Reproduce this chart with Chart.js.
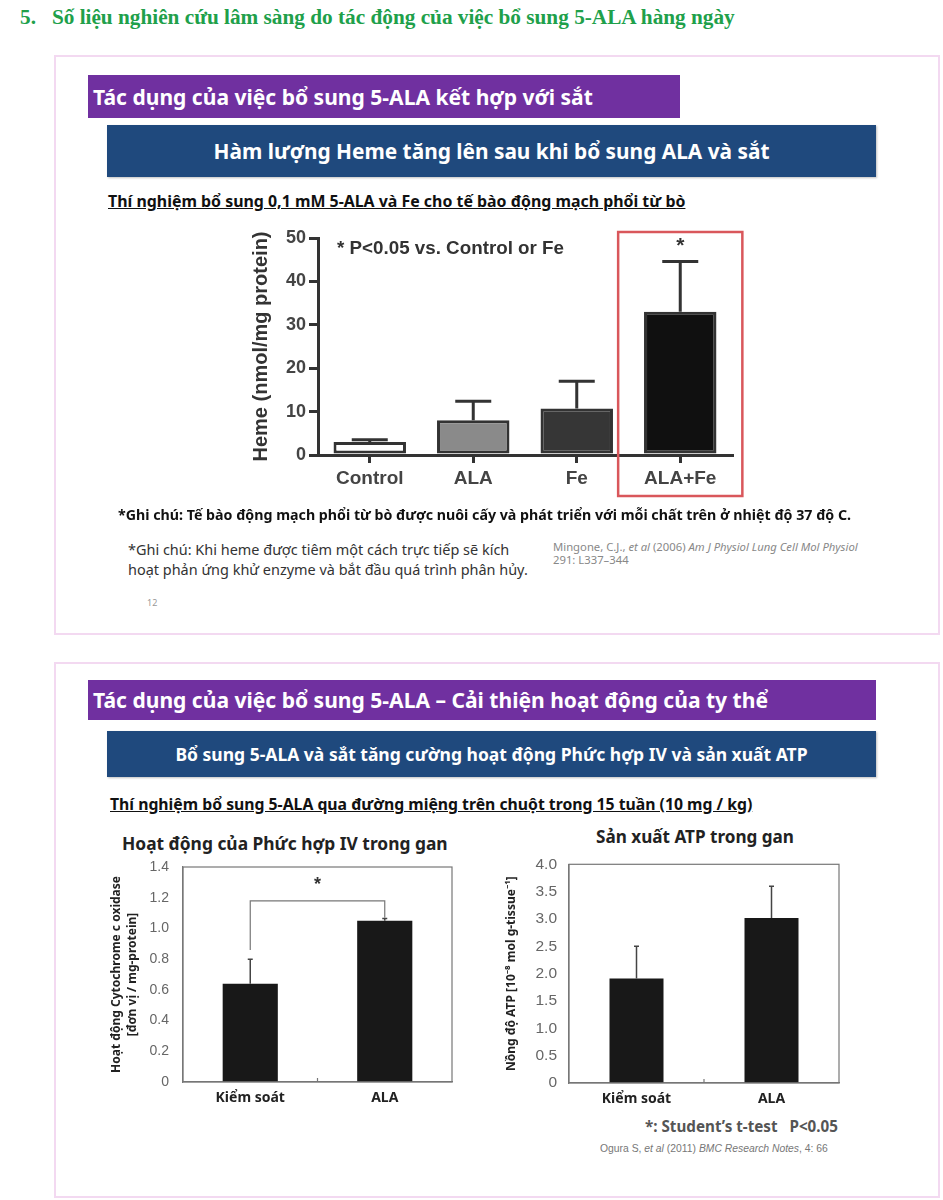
<!DOCTYPE html>
<html>
<head>
<meta charset="utf-8">
<script src="https://cdn.jsdelivr.net/npm/chart.js@4.4.1/dist/chart.umd.min.js"></script>
<style>
  body { margin: 0; background: #fff; }
  #page { position: relative; width: 943px; height: 1200px; overflow: hidden; font-family: "Noto Sans", "Open Sans", sans-serif; }
  .abs { position: absolute; white-space: nowrap; }
  .panel { position: absolute; border: 2px solid #f3d9f1; box-sizing: border-box; }
  .purple { position: absolute; background: #7030a0; color: #fff; font-weight: 700; box-sizing: border-box; padding-left: 5px; white-space: nowrap; }
  .blue { position: absolute; background: #1f497d; color: #fff; font-weight: 700; text-align: center; white-space: nowrap; box-shadow: 1px 1px 2px rgba(0,0,0,0.25); }
  .purple span, .blue span { display: inline-block; }
  .sub { font-weight: 700; text-decoration: underline; color: #111; }
  canvas { position: absolute; }
</style>
</head>
<body>
<div id="page">
  <div class="abs" data-w="715" style="left:20px; top:5px; font-family:'Liberation Serif', serif; font-weight:700; font-size:21px; color:#20a04a;">5.&nbsp;&nbsp;&nbsp;Số liệu nghiên cứu lâm sàng do tác động của việc bổ sung 5-ALA hàng ngày</div>

  <div class="panel" style="left:54px; top:55px; width:886px; height:580px;"></div>
  <div class="purple" style="left:88px; top:75px; width:592px; height:43px; line-height:43px; font-size:19px;"><span data-w="500">Tác dụng của việc bổ sung 5-ALA kết hợp với sắt</span></div>
  <div class="blue" style="left:107px; top:125px; width:769px; height:52px; line-height:52px; font-size:19px;"><span data-w="556">Hàm lượng Heme tăng lên sau khi bổ sung ALA và sắt</span></div>
  <div class="abs sub" data-w="578" style="left:108px; top:190px; font-size:14px;">Thí nghiệm bổ sung 0,1 mM 5-ALA và Fe cho tế bào động mạch phổi từ bò</div>

  <canvas id="hemeChart" style="left:220px; top:220px;"></canvas>

  <div class="abs" data-w="733" style="left:118px; top:505px; font-size:13px; font-weight:700; color:#111;">*Ghi chú: Tế bào động mạch phổi từ bò được nuôi cấy và phát triển với mỗi chất trên ở nhiệt độ 37 độ C.</div>
  <div class="abs" data-w="400" style="left:128px; top:540px; font-size:13px; line-height:20px; color:#333;">*Ghi chú: Khi heme được tiêm một cách trực tiếp sẽ kích<br>hoạt phản ứng khử enzyme và bắt đầu quá trình phân hủy.</div>
  <div class="abs" data-w="305" style="left:553px; top:540px; font-size:9px; line-height:13px; color:#888;">Mingone, C.J., <i>et al</i> (2006) <i>Am J Physiol Lung Cell Mol Physiol</i><br>291: L337–344</div>
  <div class="abs" style="left:147px; top:596px; font-size:9px; color:#999;">12</div>

  <div class="panel" style="left:54px; top:662px; width:886px; height:536px;"></div>
  <div class="purple" style="left:88px; top:680px; width:788px; height:40px; line-height:40px; font-size:19px;"><span data-w="675">Tác dụng của việc bổ sung 5-ALA – Cải thiện hoạt động của ty thể</span></div>
  <div class="blue" style="left:107px; top:731px; width:769px; height:46px; line-height:46px; font-size:16px;"><span data-w="632">Bổ sung 5-ALA và sắt tăng cường hoạt động Phức hợp IV và sản xuất ATP</span></div>
  <div class="abs sub" data-w="643" style="left:110px; top:793px; font-size:14px;">Thí nghiệm bổ sung 5-ALA qua đường miệng trên chuột trong 15 tuần (10 mg / kg)</div>

  <div class="abs" data-w="326" style="left:122px; top:831px; font-size:16px; font-weight:700; color:#222;">Hoạt động của Phức hợp IV trong gan</div>
  <div class="abs" data-w="198" style="left:596px; top:825px; font-size:16px; font-weight:700; color:#222;">Sản xuất ATP trong gan</div>

  <canvas id="cytoChart" style="left:100px; top:855px;"></canvas>
  <canvas id="atpChart" style="left:480px; top:855px;"></canvas>

  <div class="abs" data-w="193" style="left:645px; top:1116px; font-size:13px; font-weight:700; color:#555;">*: Student’s t-test&nbsp;&nbsp;&nbsp;P&lt;0.05</div>
  <div class="abs" data-w="228" style="left:600px; top:1143px; font-family:'Liberation Sans', sans-serif; font-size:10px; color:#777;">Ogura S, <i>et al</i> (2011) <i>BMC Research Notes</i>, 4: 66</div>
</div>

<script>
// --- Data ---
var hemeLabels = ["Control", "ALA", "Fe", "ALA+Fe"];
var hemeValues = [3.0, 8.0, 10.7, 33.0];
var hemeErrors = [0.5, 4.4, 6.3, 11.6];
var hemeColors = ["#ffffff", "#8a8a8a", "#363636", "#101010"];
var hemeStars = ["", "", "", "*"];
var hemeTicks = [0, 10, 20, 30, 40, 50];

var groupLabels = ["Kiểm soát", "ALA"];
var cytoValues = [0.64, 1.05];
var cytoErrors = [0.16, 0.015];
var cytoTicks = [0, 0.2, 0.4, 0.6, 0.8, 1.0, 1.2, 1.4];
var cytoBracket = [0.86, 1.18, 1.07]; // left foot, top, right foot
var cytoStarY = 1.28;

var atpValues = [1.91, 3.02];
var atpErrors = [0.59, 0.58];
var atpTicks = [0, 0.5, 1.0, 1.5, 2.0, 2.5, 3.0, 3.5, 4.0];

// stretch/shrink html text so each line spans the width seen in the picture
function fitText() {
  var els = document.querySelectorAll("[data-w]");
  for (var i = 0; i < els.length; i++) {
    var el = els[i];
    var want = parseFloat(el.getAttribute("data-w"));
    var size = parseFloat(getComputedStyle(el).fontSize);
    var have = el.getBoundingClientRect().width;
    if (have > 0) el.style.fontSize = (size * want / have).toFixed(2) + "px";
  }
}
fitText();

Chart.defaults.font.family = "'Liberation Sans', Arial, sans-serif";
Chart.defaults.animation = false;

function fixTicks(list) {
  return function (scale) {
    scale.ticks = list.map(function (v) { return { value: v }; });
  };
}

function sizeCanvas(id, w, h) {
  var c = document.getElementById(id);
  c.style.width = w + "px";
  c.style.height = h + "px";
  c.width = w;
  c.height = h;
  return c;
}

// --- Upward error bars ---
var errorBars = {
  id: "errorBars",
  afterDatasetsDraw: function (chart, args, opts) {
    var meta = chart.getDatasetMeta(0);
    var data = chart.data.datasets[0].data;
    var y = chart.scales.y;
    var ctx = chart.ctx;
    ctx.save();
    ctx.strokeStyle = opts.color;
    ctx.lineWidth = opts.width;
    meta.data.forEach(function (bar, i) {
      var y0 = y.getPixelForValue(data[i]);
      var y1 = y.getPixelForValue(data[i] + opts.values[i]);
      ctx.beginPath();
      ctx.moveTo(bar.x, y0);
      ctx.lineTo(bar.x, y1);
      ctx.moveTo(bar.x - opts.cap / 2, y1);
      ctx.lineTo(bar.x + opts.cap / 2, y1);
      ctx.stroke();
    });
    ctx.restore();
  }
};

// --- Chart 1 extras: note, star, red box ---
var hemeExtras = {
  id: "hemeExtras",
  afterDraw: function (chart) {
    var ctx = chart.ctx;
    var x = chart.scales.x;
    var y = chart.scales.y;
    var area = chart.chartArea;
    ctx.save();
    ctx.fillStyle = "#333";
    ctx.font = "bold 18.8px 'Liberation Sans', Arial, sans-serif";
    ctx.textBaseline = "middle";
    ctx.fillText("* P<0.05 vs. Control or Fe", area.left + 19, area.top + 11);

    ctx.textAlign = "center";
    ctx.font = "bold 21px 'Liberation Sans', Arial, sans-serif";
    hemeStars.forEach(function (s, i) {
      if (s) ctx.fillText(s, x.getPixelForValue(i), y.getPixelForValue(48.0));
    });

    var half = (x.getPixelForValue(1) - x.getPixelForValue(0)) * 0.6;
    var cx = x.getPixelForValue(3);
    ctx.strokeStyle = "#d9575b";
    ctx.lineWidth = 2.5;
    ctx.strokeRect(cx - half, area.top - 6, half * 2, chart.height - 14 - (area.top - 6));
    ctx.restore();
  }
};

// --- Box frame round the plot area ---
var boxFrame = {
  id: "boxFrame",
  afterDraw: function (chart) {
    var a = chart.chartArea;
    var ctx = chart.ctx;
    ctx.save();
    ctx.strokeStyle = "#777";
    ctx.lineWidth = 1.2;
    ctx.strokeRect(a.left, a.top, a.right - a.left, a.bottom - a.top);
    ctx.beginPath();
    var mid = (chart.scales.x.getPixelForValue(0) + chart.scales.x.getPixelForValue(1)) / 2;
    ctx.moveTo(mid, a.bottom);
    ctx.lineTo(mid, a.bottom - 4);
    ctx.stroke();
    ctx.restore();
  }
};

// --- Significance bracket on chart 2 ---
var sigBracket = {
  id: "sigBracket",
  afterDraw: function (chart) {
    var ctx = chart.ctx;
    var x = chart.scales.x;
    var y = chart.scales.y;
    var x0 = x.getPixelForValue(0);
    var x1 = x.getPixelForValue(1);
    ctx.save();
    ctx.strokeStyle = "#777";
    ctx.lineWidth = 1.2;
    ctx.beginPath();
    ctx.moveTo(x0, y.getPixelForValue(cytoBracket[0]));
    ctx.lineTo(x0, y.getPixelForValue(cytoBracket[1]));
    ctx.lineTo(x1, y.getPixelForValue(cytoBracket[1]));
    ctx.lineTo(x1, y.getPixelForValue(cytoBracket[2]));
    ctx.stroke();
    ctx.fillStyle = "#333";
    ctx.font = "bold 18px 'Liberation Sans', Arial, sans-serif";
    ctx.textAlign = "center";
    ctx.textBaseline = "middle";
    ctx.fillText("*", (x0 + x1) / 2, y.getPixelForValue(cytoStarY));
    ctx.restore();
  }
};

// --- Chart 1: Heme ---
new Chart(sizeCanvas("hemeChart", 540, 290), {
  type: "bar",
  data: {
    labels: hemeLabels,
    datasets: [{
      data: hemeValues,
      backgroundColor: hemeColors,
      borderColor: "#333",
      borderWidth: 3,
      borderSkipped: false,
      categoryPercentage: 1,
      barPercentage: 0.7
    }]
  },
  options: {
    responsive: false,
    layout: { padding: { top: 18, right: 28, left: 0, bottom: 0 } },
    plugins: {
      legend: { display: false },
      tooltip: { enabled: false },
      errorBars: { values: hemeErrors, color: "#333", width: 3, cap: 36 }
    },
    scales: {
      x: {
        afterFit: function (s) { s.height = 55; },
        grid: { drawOnChartArea: false, offset: false, tickLength: 8, lineWidth: 3, color: "#333" },
        border: { color: "#333", width: 3 },
        ticks: { color: "#444", padding: 4, font: { size: 19, weight: "bold" } }
      },
      y: {
        min: 0,
        max: 50,
        afterFit: function (s) { s.width = 98; },
        afterBuildTicks: fixTicks(hemeTicks),
        grid: { drawOnChartArea: false, tickLength: 9, lineWidth: 3, color: "#333" },
        border: { color: "#333", width: 3 },
        ticks: { color: "#444", padding: 3, font: { size: 18, weight: "bold" } },
        title: {
          display: true,
          text: "Heme (nmol/mg protein)",
          color: "#333",
          padding: { top: 29, bottom: 0 },
          font: { size: 20, weight: "bold" }
        }
      }
    }
  },
  plugins: [errorBars, hemeExtras]
});

function smallBarOptions(cfg) {
  return {
    responsive: false,
    layout: { padding: { top: cfg.top, right: cfg.right, left: 0, bottom: 0 } },
    plugins: {
      legend: { display: false },
      tooltip: { enabled: false },
      errorBars: { values: cfg.errors, color: "#444", width: 1.5, cap: 5 }
    },
    scales: {
      x: {
        afterFit: function (s) { s.height = cfg.xh; },
        grid: { display: true, drawOnChartArea: false, drawTicks: false },
        border: { color: "#777", width: 1.2 },
        ticks: { color: "#222", padding: 8, font: { family: "'Noto Sans', sans-serif", size: 14, weight: "bold" } }
      },
      y: {
        min: 0,
        max: cfg.max,
        afterFit: function (s) { s.width = cfg.yw; },
        afterBuildTicks: fixTicks(cfg.ticks),
        // invisible tick marks give the label gap without pushing the plot top down
        grid: { display: true, drawOnChartArea: false, drawTicks: true, tickLength: cfg.tickPad, color: "rgba(0,0,0,0)" },
        border: { color: "#777", width: 1.2 },
        ticks: {
          color: "#666",
          padding: 0,
          font: { size: cfg.tickSize },
          callback: function (v) { return v === 0 ? "0" : v.toFixed(1); }
        },
        title: {
          display: true,
          text: cfg.title,
          color: "#222",
          padding: { top: cfg.titlePad, bottom: 0 },
          font: { family: "'Noto Sans', sans-serif", size: 12, weight: "bold", lineHeight: 1.33 }
        }
      }
    }
  };
}

// --- Chart 2: Complex IV activity ---
new Chart(sizeCanvas("cytoChart", 370, 260), {
  type: "bar",
  data: {
    labels: groupLabels,
    datasets: [{ data: cytoValues, backgroundColor: "#181818", categoryPercentage: 1, barPercentage: 0.41 }]
  },
  options: smallBarOptions({
    top: 12, right: 18, xh: 33, yw: 83, max: 1.4, ticks: cytoTicks, errors: cytoErrors, titlePad: 9,
    tickPad: 14, tickSize: 14,
    title: ["Hoạt động Cytochrome c oxidase", "[đơn vị / mg-protein]"]
  }),
  plugins: [errorBars, boxFrame, sigBracket]
});

// --- Chart 3: ATP ---
new Chart(sizeCanvas("atpChart", 380, 260), {
  type: "bar",
  data: {
    labels: groupLabels,
    datasets: [{ data: atpValues, backgroundColor: "#181818", categoryPercentage: 1, barPercentage: 0.4 }]
  },
  options: smallBarOptions({
    top: 8, right: 21, xh: 32, yw: 89, max: 4.0, ticks: atpTicks, errors: atpErrors, titlePad: 24,
    tickPad: 12, tickSize: 15.5,
    title: "Nồng độ ATP [10⁻⁸ mol g-tissue⁻¹]"
  }),
  plugins: [errorBars, boxFrame]
});
</script>
</body>
</html>
